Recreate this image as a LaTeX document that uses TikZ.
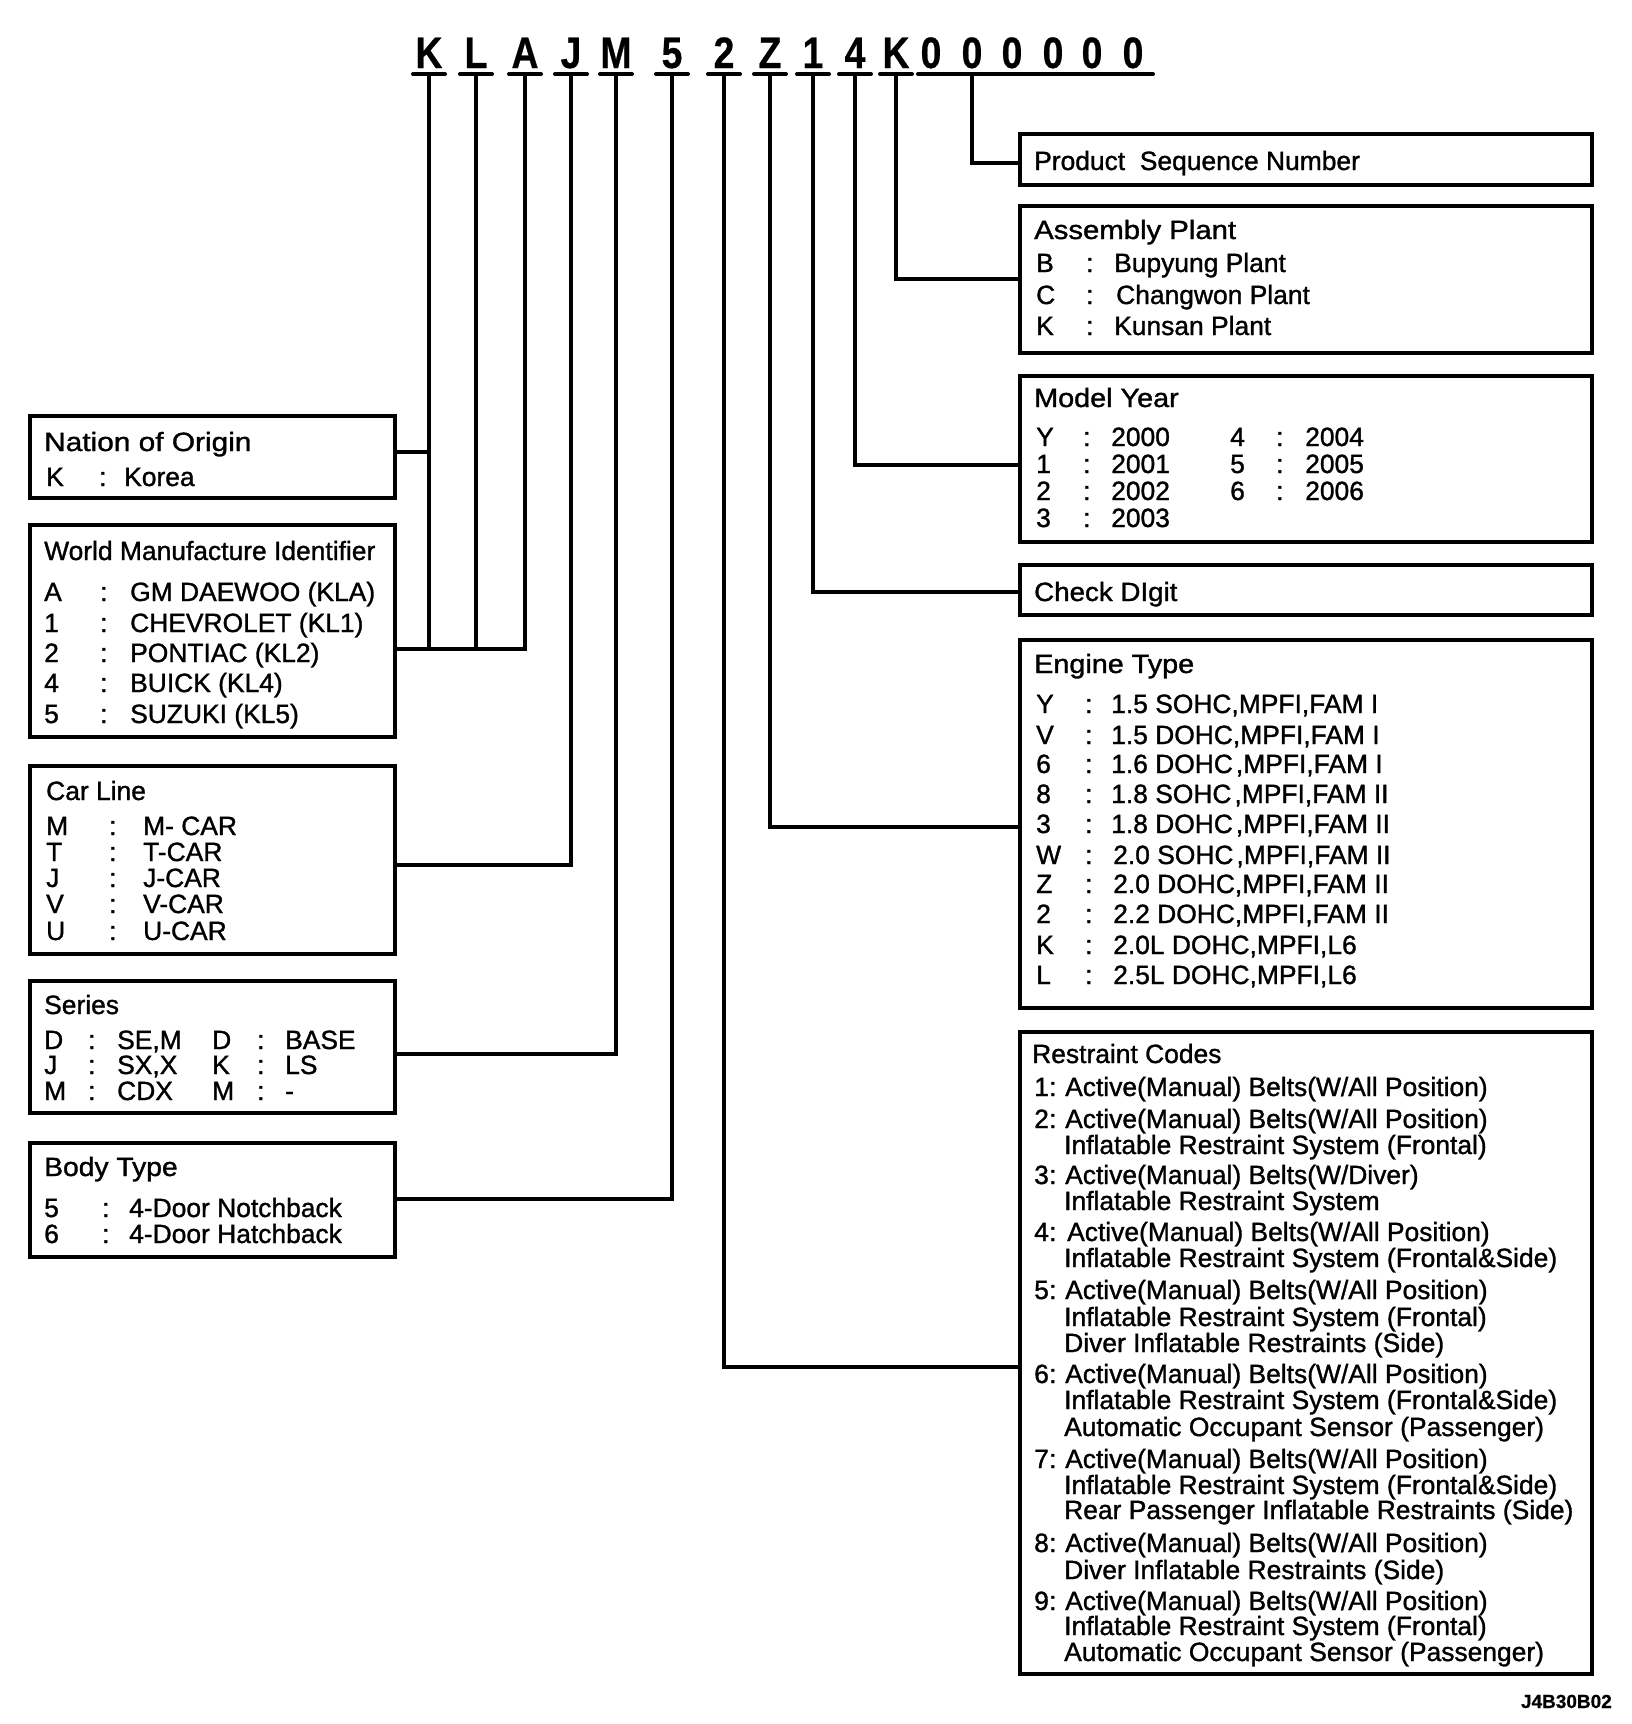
\documentclass[tikz,border=0pt]{standalone}
\usepackage{fontspec}
\usepackage{graphicx}
\setmainfont{Liberation Sans}[FakeBold=1.2]
\newfontfamily\vinfont{Liberation Sans Bold}[FakeBold=0.6]
\newcounter{tn}
\tikzset{
 x=1pt, y=-1pt,
 box/.style={draw, line width=3.5pt, inner sep=0pt, outer sep=0pt, anchor=north west},
 conn/.style={line width=3.3pt, line join=miter},
 ul/.style={line width=4pt, line cap=round},
 txt/.style={anchor=base west, inner sep=0pt, font=\fontsize{26.4}{26.4}\selectfont},
 vin/.style={anchor=base, inner sep=0pt, font=\fontsize{44}{44}\vinfont},
 tag/.style={anchor=base east, inner sep=0pt, font=\fontsize{19}{19}\vinfont},
}
\newcommand\tx[3]{\stepcounter{tn}\node[txt] (t\arabic{tn}) at (#1,#2) {#3};}
\newcommand\kv[6]{\tx{#2}{#1}{#3}\tx{#4}{#1}{:}\tx{#5}{#1}{#6}}
\newcommand\bx[5]{\node[box, minimum width={#4-#2}, minimum height={#5-#3}] (#1) at (#2,#3) {};}
\newcommand\vl[3]{\node[vin] (#1) at (#2,68) {\scalebox{0.85}[1]{#3}};}
\newcommand\ttl[4]{\stepcounter{tn}\node[txt] (t\arabic{tn}) at (#1,#2) {\scalebox{#3}[1]{#4}};}
\begin{document}
\begin{tikzpicture}
\useasboundingbox (0,0) rectangle (1632,1724);

% VIN letters
\vl{v1}{429}{K}
\vl{v2}{476}{L}
\vl{v3}{525}{A}
\vl{v4}{571}{J}
\vl{v5}{616}{M}
\vl{v6}{672}{5}
\vl{v7}{724}{2}
\vl{v8}{770}{Z}
\vl{v9}{813}{1}
\vl{v10}{855}{4}
\vl{v11}{896}{K}
\vl{v12}{931}{0}
\vl{v13}{972}{0}
\vl{v14}{1012}{0}
\vl{v15}{1053}{0}
\vl{v16}{1092}{0}
\vl{v17}{1133}{0}

% underlines
\foreach \n in {v1,v2,v3,v4,v5,v6,v7,v8,v9,v10,v11}{
  \draw[ul] ([shift={(-16,6)}]\n.base) -- ([shift={(16,6)}]\n.base);
}
\draw[ul] ([shift={(-13,6)}]v12.base) -- ([shift={(20,6)}]v17.base);

% left boxes
\bx{nation}{30}{416}{395}{498}
\bx{wmi}{30}{525}{395}{737}
\bx{carline}{30}{766}{395}{954}
\bx{series}{30}{981}{395}{1113}
\bx{body}{30}{1143}{395}{1257}

% right boxes
\bx{product}{1020}{134}{1592}{185}
\bx{plant}{1020}{206}{1592}{353}
\bx{year}{1020}{376}{1592}{542}
\bx{check}{1020}{565}{1592}{615}
\bx{engine}{1020}{640}{1592}{1008}
\bx{restr}{1020}{1032}{1592}{1674}

% connectors
\draw[conn] ([yshift=-6pt]v1.base) -- (v1.base |- 0,649);
\draw[conn] ([yshift=-6pt]v2.base) -- (v2.base |- 0,649);
\draw[conn] ([yshift=-6pt]v3.base) |- (wmi.east |- 0,649);
\draw[conn] (nation.east |- 0,452) -- (v1.base |- 0,452);
\draw[conn] ([yshift=-6pt]v4.base) |- (carline.east |- 0,865);
\draw[conn] ([yshift=-6pt]v5.base) |- (series.east |- 0,1054);
\draw[conn] ([yshift=-6pt]v6.base) |- (body.east |- 0,1199);
\draw[conn] ([yshift=-6pt]v7.base) |- (restr.west |- 0,1367);
\draw[conn] ([yshift=-6pt]v8.base) |- (engine.west |- 0,827);
\draw[conn] ([yshift=-6pt]v9.base) |- (check.west |- 0,592);
\draw[conn] ([yshift=-6pt]v10.base) |- (year.west |- 0,465);
\draw[conn] ([yshift=-6pt]v11.base) |- (plant.west |- 0,279);
\draw[conn] ([yshift=-6pt]v13.base) |- (product.west |- 0,163);

% Nation of Origin
\ttl{44}{451}{1.13}{Nation of Origin}
\kv{486}{46}{K}{99}{124}{Korea}

% WMI
\tx{44}{560}{World Manufacture Identifier}
\kv{601}{44}{A}{100}{130}{GM DAEWOO (KLA)}
\kv{632}{44}{1}{100}{130}{CHEVROLET (KL1)}
\kv{662}{44}{2}{100}{130}{PONTIAC (KL2)}
\kv{692}{44}{4}{100}{130}{BUICK (KL4)}
\kv{723}{44}{5}{100}{130}{SUZUKI (KL5)}

% Car Line
\tx{46}{800}{Car Line}
\kv{835}{46}{M}{109}{143}{M- CAR}
\kv{861}{46}{T}{109}{143}{T-CAR}
\kv{887}{46}{J}{109}{143}{J-CAR}
\kv{913}{46}{V}{109}{143}{V-CAR}
\kv{940}{46}{U}{109}{143}{U-CAR}

% Series
\tx{44}{1014}{Series}
\kv{1049}{44}{D}{88}{117}{SE,M}
\kv{1074}{44}{J}{88}{117}{SX,X}
\kv{1100}{44}{M}{88}{117}{CDX}
\kv{1049}{212}{D}{257}{285}{BASE}
\kv{1074}{212}{K}{257}{285}{LS}
\kv{1100}{212}{M}{257}{285}{-}

% Body Type
\ttl{44}{1176}{1.07}{Body Type}
\kv{1217}{44}{5}{102}{129}{4-Door Notchback}
\kv{1243}{44}{6}{102}{129}{4-Door Hatchback}

% Product
\tx{1034}{170}{Product\ \ Sequence Number}

% Assembly Plant
\ttl{1034}{239}{1.11}{Assembly Plant}
\kv{272}{1036}{B}{1086}{1114}{Bupyung Plant}
\kv{304}{1036}{C}{1086}{1116}{Changwon Plant}
\kv{335}{1036}{K}{1086}{1114}{Kunsan Plant}

% Model Year
\ttl{1034}{407}{1.09}{Model Year}
\kv{446}{1036}{Y}{1083}{1111}{2000}
\kv{473}{1036}{1}{1083}{1111}{2001}
\kv{500}{1036}{2}{1083}{1111}{2002}
\kv{527}{1036}{3}{1083}{1111}{2003}
\kv{446}{1230}{4}{1276}{1305}{2004}
\kv{473}{1230}{5}{1276}{1305}{2005}
\kv{500}{1230}{6}{1276}{1305}{2006}

% Check Digit
\ttl{1034}{601}{1.05}{Check DIgit}

% Engine Type
\ttl{1034}{673}{1.09}{Engine Type}
\kv{713}{1036}{Y}{1085}{1111}{1.5 SOHC,MPFI,FAM I}
\kv{744}{1036}{V}{1085}{1111}{1.5 DOHC,MPFI,FAM I}
\kv{773}{1036}{6}{1085}{1111}{1.6 DOHC\kern3pt,MPFI,FAM I}
\kv{803}{1036}{8}{1085}{1111}{1.8 SOHC\kern3pt,MPFI,FAM II}
\kv{833}{1036}{3}{1085}{1111}{1.8 DOHC\kern3pt,MPFI,FAM II}
\kv{864}{1036}{W}{1085}{1113}{2.0 SOHC\kern3pt,MPFI,FAM II}
\kv{893}{1036}{Z}{1085}{1113}{2.0 DOHC,MPFI,FAM II}
\kv{923}{1036}{2}{1085}{1113}{2.2 DOHC,MPFI,FAM II}
\kv{954}{1036}{K}{1085}{1113}{2.0L DOHC,MPFI,L6}
\kv{984}{1036}{L}{1085}{1113}{2.5L DOHC,MPFI,L6}

% Restraint Codes
\tx{1032}{1063}{Restraint Codes}
\kv{1096}{1034}{1}{1049}{1065}{Active(Manual) Belts(W/All Position)}
\kv{1128}{1034}{2}{1049}{1065}{Active(Manual) Belts(W/All Position)}
\tx{1064}{1154}{Inflatable Restraint System (Frontal)}
\kv{1184}{1034}{3}{1049}{1065}{Active(Manual) Belts(W/Diver)}
\tx{1064}{1210}{Inflatable Restraint System}
\kv{1241}{1034}{4}{1049}{1067}{Active(Manual) Belts(W/All Position)}
\tx{1064}{1267}{Inflatable Restraint System (Frontal\&Side)}
\kv{1299}{1034}{5}{1049}{1065}{Active(Manual) Belts(W/All Position)}
\tx{1064}{1326}{Inflatable Restraint System (Frontal)}
\tx{1064}{1352}{Diver Inflatable Restraints (Side)}
\kv{1383}{1034}{6}{1049}{1065}{Active(Manual) Belts(W/All Position)}
\tx{1064}{1409}{Inflatable Restraint System (Frontal\&Side)}
\tx{1064}{1436}{Automatic Occupant Sensor (Passenger)}
\kv{1468}{1034}{7}{1049}{1065}{Active(Manual) Belts(W/All Position)}
\tx{1064}{1494}{Inflatable Restraint System (Frontal\&Side)}
\tx{1064}{1519}{Rear Passenger Inflatable Restraints (Side)}
\kv{1552}{1034}{8}{1049}{1065}{Active(Manual) Belts(W/All Position)}
\tx{1064}{1579}{Diver Inflatable Restraints (Side)}
\kv{1610}{1034}{9}{1049}{1065}{Active(Manual) Belts(W/All Position)}
\tx{1064}{1635}{Inflatable Restraint System (Frontal)}
\tx{1064}{1661}{Automatic Occupant Sensor (Passenger)}

\node[tag] (code) at (1612,1708) {J4B30B02};
\end{tikzpicture}
\end{document}
